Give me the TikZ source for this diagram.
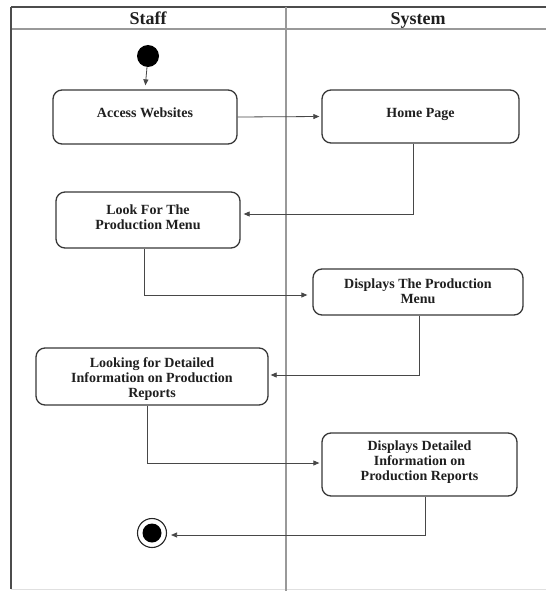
\documentclass[tikz,border=0pt]{standalone}
\usepackage{fontspec}
\setmainfont{Liberation Serif}
\usetikzlibrary{arrows.meta}
\begin{document}
\begin{tikzpicture}[x=1pt,y=-1pt,
  edgedark/.style={draw=black!70,line width=1.1pt},
  edgegray/.style={draw=black!40,line width=1.4pt},
  edgelight/.style={draw=black!12,line width=1pt},
  actbox/.style={draw=black!78,line width=1.3pt,rounded corners=9pt,inner sep=0pt,fill=white},
  acttext/.style={font=\bfseries\fontsize{14}{15}\selectfont,align=center,inner sep=0pt,text=black!88},
  headtext/.style={font=\bfseries\fontsize{18}{20}\selectfont,inner sep=0pt,text=black!88,anchor=base},
  flow/.style={draw=black!72,line width=0.8pt,-{Triangle[length=6pt,width=5pt]}},
]
\useasboundingbox (0,0) rectangle (546,591);
\fill[white] (0,0) rectangle (546,591);

% swimlane frame
\draw[edgedark] (11,7) -- (546,7);
\draw[edgegray] (11,29) -- (546,29);
\draw[edgedark] (11,7) -- (11,589);
\draw[edgelight] (11,589) -- (546,589);
\draw[edgegray] (286,7) -- (286,591);

% lane titles
\node[headtext] (staff) at (148,24.5) {Staff};
\node[headtext] (system) at (418,24.5) {System};

% initial and final states
\node[circle,fill=black,minimum size=22pt,inner sep=0pt] (start) at (148,56) {};
\node[circle,draw=black!85,line width=1.1pt,minimum size=29pt,inner sep=0pt] (finish) at (152,533) {};
\node[circle,fill=black,minimum size=19pt,inner sep=0pt] (finishdot) at (152,533) {};

% activities
\node[actbox,minimum width=184pt,minimum height=54pt] (access) at (145,117) {};
\node[acttext,anchor=base] (accessT) at (145,117.5) {Access Websites};

\node[actbox,minimum width=197pt,minimum height=53pt] (home) at (420.5,116.5) {};
\node[acttext,anchor=base] (homeT) at (420.5,117.5) {Home Page};

\node[actbox,minimum width=184pt,minimum height=56pt] (lookfor) at (148,220) {};
\node[acttext] (lookforT) at (148,217) {Look For The\\Production Menu};

\node[actbox,minimum width=210pt,minimum height=46pt] (dpm) at (418,292) {};
\node[acttext] (dpmT) at (418,291) {Displays The Production\\Menu};

\node[actbox,minimum width=232pt,minimum height=57pt] (looking) at (152,376.5) {};
\node[acttext] (lookingT) at (152,379) {Looking for Detailed\\Information on Production\\Reports};

\node[actbox,minimum width=195pt,minimum height=63pt] (ddi) at (419.5,464.5) {};
\node[acttext] (ddiT) at (419.5,462) {Displays Detailed\\Information on\\Production Reports};

% control flow
\draw[flow,shorten >=4pt] (start) -- (access.north);
\draw[flow,shorten >=2pt] (access.east) -- (home.west);
\draw[flow,shorten >=3pt] ([xshift=-7.5pt]home.south) |- ([yshift=6pt]lookfor.east);
\draw[flow,shorten >=5pt] ([xshift=-4pt]lookfor.south) |- ([yshift=-3pt]dpm.west);
\draw[flow,shorten >=2pt] ([xshift=1pt]dpm.south) |- ([yshift=1.5pt]looking.east);
\draw[flow,shorten >=2pt] ([xshift=-5pt]looking.south) |- ([yshift=1.5pt]ddi.west);
\draw[flow,shorten >=4pt] ([xshift=5.5pt]ddi.south) |- ([yshift=-2pt]finish.east);
\end{tikzpicture}
\end{document}
